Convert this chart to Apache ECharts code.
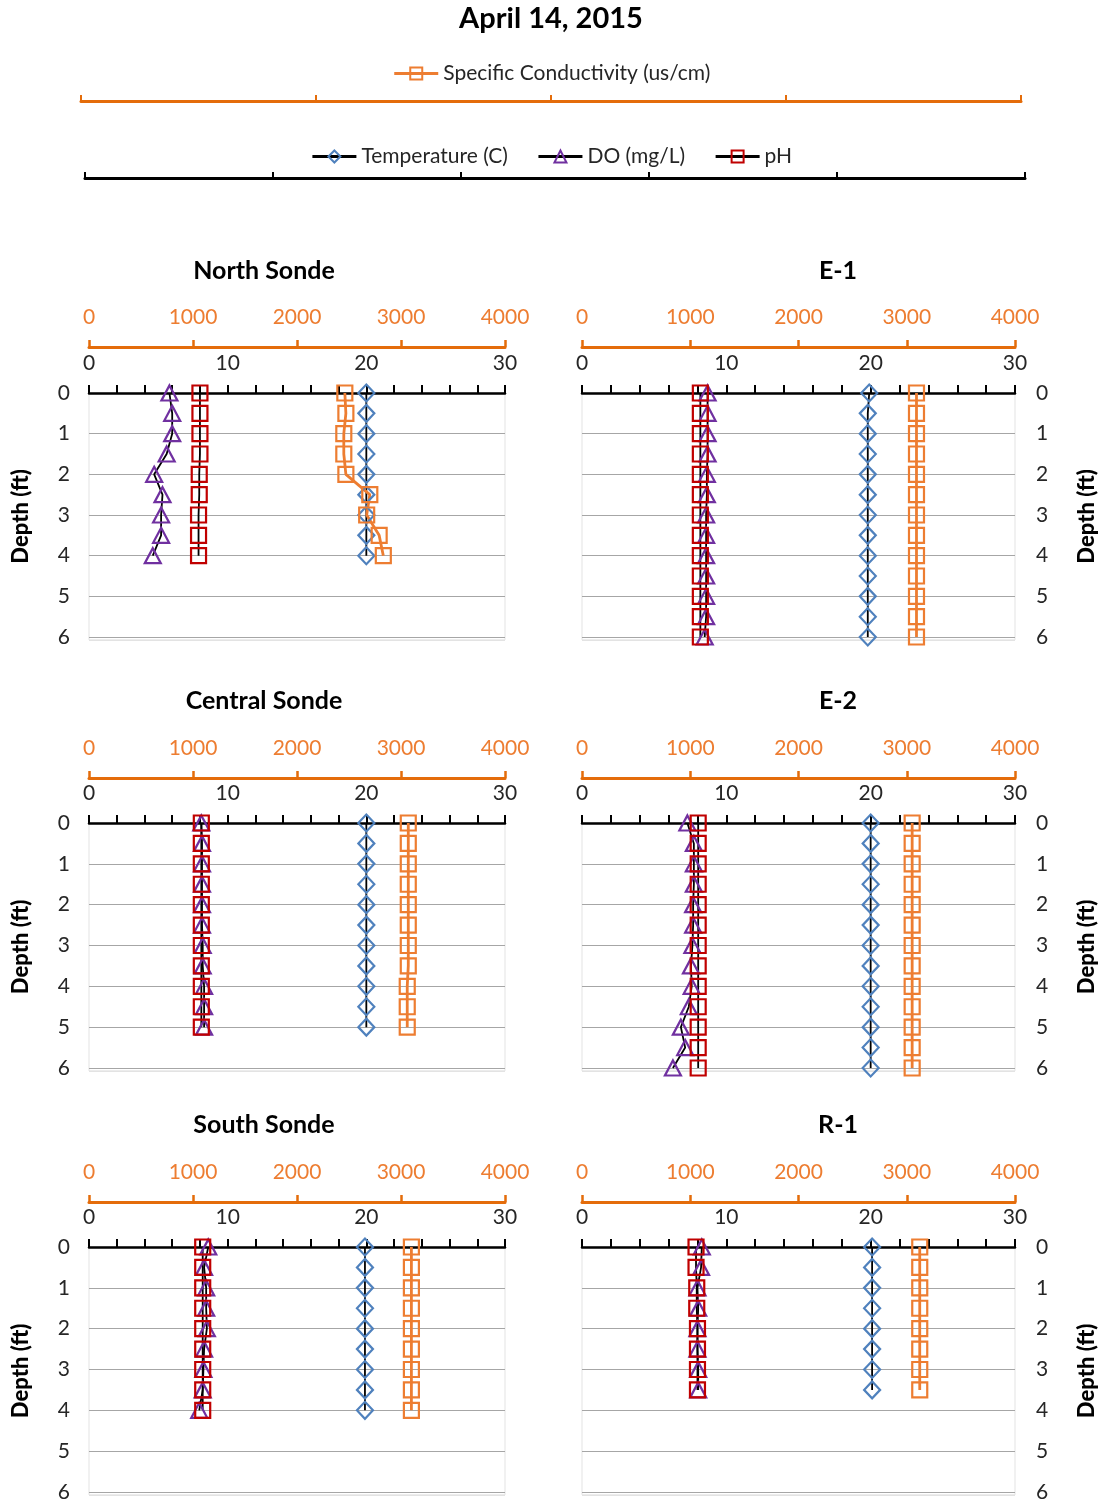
<!DOCTYPE html>
<html>
<head>
<meta charset="utf-8">
<title>April 14, 2015 — Sonde depth profiles</title>
<script src="https://cdn.jsdelivr.net/npm/echarts@6/dist/echarts.min.js"></script>
<style>
  html, body { margin: 0; padding: 0; background: #ffffff; }
  #chart { width: 1103px; height: 1502px; }
</style>
</head>
<body>
<div id="chart"></div>
<script>
// ---- Profile data (depth in ft; temperature C, DO mg/L, pH, conductivity us/cm) ----
const northDepth = [0, 0.5, 1, 1.5, 2, 2.5, 3, 3.5, 4];
const northTemp  = [20.0, 20.0, 20.0, 20.0, 20.0, 20.0, 20.0, 20.0, 20.0];
const northDO    = [5.8, 6.0, 6.0, 5.6, 4.7, 5.3, 5.2, 5.2, 4.6];
const northPH    = [8.0, 8.0, 8.0, 8.0, 7.95, 7.95, 7.9, 7.9, 7.9];
const northCond  = [2460, 2470, 2450, 2450, 2470, 2700, 2670, 2790, 2830];

const e1Depth = [0, 0.5, 1, 1.5, 2, 2.5, 3, 3.5, 4, 4.5, 5, 5.5, 6];
const e1Temp  = [19.9, 19.8, 19.8, 19.8, 19.8, 19.8, 19.8, 19.8, 19.8, 19.8, 19.8, 19.8, 19.8];
const e1DO    = [8.7, 8.7, 8.7, 8.7, 8.65, 8.65, 8.6, 8.6, 8.6, 8.6, 8.6, 8.6, 8.5];
const e1PH    = [8.2, 8.2, 8.2, 8.2, 8.2, 8.2, 8.2, 8.2, 8.2, 8.2, 8.2, 8.2, 8.2];
const e1Cond  = [3090, 3090, 3090, 3090, 3090, 3090, 3090, 3090, 3090, 3090, 3090, 3090, 3090];

const centralDepth = [0, 0.5, 1, 1.5, 2, 2.5, 3, 3.5, 4, 4.5, 5];
const centralTemp  = [20.0, 20.0, 20.0, 20.0, 20.0, 20.0, 20.0, 20.0, 20.0, 20.0, 20.0];
const centralDO    = [8.1, 8.15, 8.15, 8.15, 8.15, 8.15, 8.2, 8.2, 8.3, 8.3, 8.3];
const centralPH    = [8.1, 8.1, 8.1, 8.1, 8.1, 8.1, 8.1, 8.1, 8.1, 8.1, 8.1];
const centralCond  = [3070, 3070, 3070, 3070, 3070, 3070, 3070, 3070, 3060, 3060, 3060];

const e2Depth = [0, 0.5, 1, 1.5, 2, 2.5, 3, 3.5, 4, 4.5, 5, 5.5, 6];
const e2Temp  = [20.0, 20.0, 20.0, 20.0, 20.0, 20.0, 20.0, 20.0, 20.0, 20.0, 20.0, 20.0, 20.0];
const e2DO    = [7.3, 7.75, 7.75, 7.75, 7.7, 7.7, 7.65, 7.55, 7.6, 7.4, 6.85, 7.15, 6.3];
const e2PH    = [8.05, 8.05, 8.05, 8.05, 8.05, 8.05, 8.05, 8.05, 8.05, 8.05, 8.05, 8.05, 8.05];
const e2Cond  = [3050, 3050, 3050, 3050, 3050, 3050, 3050, 3050, 3050, 3050, 3050, 3050, 3050];

const southDepth = [0, 0.5, 1, 1.5, 2, 2.5, 3, 3.5, 4];
const southTemp  = [19.9, 19.9, 19.9, 19.9, 19.9, 19.9, 19.9, 19.9, 19.9];
const southDO    = [8.6, 8.3, 8.45, 8.45, 8.5, 8.3, 8.25, 8.2, 7.95];
const southPH    = [8.2, 8.2, 8.2, 8.2, 8.2, 8.2, 8.2, 8.2, 8.2];
const southCond  = [3100, 3100, 3100, 3100, 3100, 3100, 3100, 3100, 3100];

const r1Depth = [0, 0.5, 1, 1.5, 2, 2.5, 3, 3.5];
const r1Temp  = [20.1, 20.1, 20.1, 20.1, 20.1, 20.1, 20.1, 20.1];
const r1DO    = [8.3, 8.25, 8.0, 8.05, 8.0, 8.0, 8.05, 8.05];
const r1PH    = [7.9, 7.9, 7.95, 7.95, 8.0, 8.0, 8.0, 8.0];
const r1Cond  = [3120, 3120, 3120, 3120, 3120, 3120, 3120, 3120];

// Axis tick labels
const depthTicks = [0, 1, 2, 3, 4, 5, 6];
const primaryTicks = [0, 10, 20, 30];
const condTicks = [0, 1000, 2000, 3000, 4000];

// Series names / legend entries
const NAME_COND = 'Specific Conductivity (us/cm)';
const NAME_TEMP = 'Temperature (C)';
const NAME_DO = 'DO (mg/L)';
const NAME_PH = 'pH';

const PANELS = [
  { title: 'North Sonde',   col: 0, row: 0, depth: northDepth,   temp: northTemp,   dox: northDO,   ph: northPH,   cond: northCond },
  { title: 'E-1',           col: 1, row: 0, depth: e1Depth,      temp: e1Temp,      dox: e1DO,      ph: e1PH,      cond: e1Cond },
  { title: 'Central Sonde', col: 0, row: 1, depth: centralDepth, temp: centralTemp, dox: centralDO, ph: centralPH, cond: centralCond },
  { title: 'E-2',           col: 1, row: 1, depth: e2Depth,      temp: e2Temp,      dox: e2DO,      ph: e2PH,      cond: e2Cond },
  { title: 'South Sonde',   col: 0, row: 2, depth: southDepth,   temp: southTemp,   dox: southDO,   ph: southPH,   cond: southCond },
  { title: 'R-1',           col: 1, row: 2, depth: r1Depth,      temp: r1Temp,      dox: r1DO,      ph: r1PH,      cond: r1Cond }
];

// ---- Layout and styling ----
const FONT = 'Lato, "Open Sans", sans-serif';
const TEXT = '#262626';
const ORANGE = '#ED7D31';
const ORANGE_AXIS = '#E46C0A';
const BLUE = '#4F81BD';
const PURPLE = '#7030A0';
const RED = '#C00000';
const DEPTH_MAX = 6.07;   // a hair past 6 ft so the plot frame sits just under the 6 ft gridline
const LABEL_SIZE = 21;

const COLS = [
  { left: 89,  width: 416, titleX: 264, side: 'left',  labelMargin: 19, nameGap: 57 },
  { left: 582, width: 433, titleX: 838, side: 'right', labelMargin: 21, nameGap: 61 }
];
const ROWS = [
  { top: 393,  ppf: 40.67, titleY: 271,  condOffset: 46 },
  { top: 823,  ppf: 40.83, titleY: 701,  condOffset: 45 },
  { top: 1247, ppf: 40.83, titleY: 1125, condOffset: 45 }
];

const pairs = (xs, ys) => xs.map((x, i) => [x, ys[i]]);
const hollow = (c) => ({ color: 'rgba(255,255,255,0)', borderColor: c, borderWidth: 2.2 });

const grid = [], xAxis = [], yAxis = [], series = [], graphic = [];

graphic.push({
  type: 'text', x: 551, y: 19,
  style: { text: 'April 14, 2015', font: 'bold 29px ' + FONT, fill: '#000', align: 'center', verticalAlign: 'middle' }
});

PANELS.forEach((p, gi) => {
  const c = COLS[p.col], r = ROWS[p.row];
  grid.push({
    left: c.left, top: r.top, width: c.width, height: DEPTH_MAX * r.ppf,
    outerBoundsMode: 'none', containLabel: false,
    show: true, borderColor: '#E3E3E3', borderWidth: 1, backgroundColor: 'transparent'
  });

  // primary scale: temperature, DO, pH
  xAxis.push({
    type: 'value', gridIndex: gi, position: 'top', min: 0, max: 30, interval: 2,
    axisLine: { show: true, onZero: false, lineStyle: { color: '#000', width: 2.5 } },
    axisTick: { show: true, length: 8, lineStyle: { color: '#000', width: 2 } },
    axisLabel: {
      margin: 19, fontSize: LABEL_SIZE, fontFamily: FONT, color: TEXT,
      formatter: (v) => primaryTicks.indexOf(v) >= 0 ? String(v) : ''
    },
    splitLine: { show: false }
  });
  // secondary scale: conductivity
  xAxis.push({
    type: 'value', gridIndex: gi, position: 'top', offset: r.condOffset, min: 0, max: 4000, interval: 1000,
    axisLine: { show: true, onZero: false, lineStyle: { color: ORANGE_AXIS, width: 3 } },
    axisTick: { show: true, length: 7, lineStyle: { color: ORANGE_AXIS, width: 2.5 } },
    axisLabel: {
      margin: 19, fontSize: LABEL_SIZE, fontFamily: FONT, color: ORANGE,
      formatter: (v) => condTicks.indexOf(v) >= 0 ? String(v) : ''
    },
    splitLine: { show: false }
  });
  yAxis.push({
    type: 'value', gridIndex: gi, position: c.side, inverse: true, min: 0, max: DEPTH_MAX, interval: 1,
    name: 'Depth (ft)', nameLocation: 'middle', nameRotate: 90, nameGap: c.nameGap,
    nameTextStyle: { fontSize: 22, fontWeight: 900, fontFamily: FONT, color: '#000' },
    axisLine: { show: false }, axisTick: { show: false },
    axisLabel: {
      margin: c.labelMargin, fontSize: LABEL_SIZE, fontFamily: FONT, color: TEXT,
      formatter: (v) => depthTicks.indexOf(v) >= 0 ? String(v) : ''
    },
    splitLine: { show: true, lineStyle: { width: 1, color: ['#A6A6A6', '#A6A6A6', '#A6A6A6', '#A6A6A6', '#A6A6A6', '#A6A6A6', '#A6A6A6', '#E3E3E3'] } }
  });

  const xa = gi * 2;
  const base = { type: 'line', xAxisIndex: xa, yAxisIndex: gi, animation: false, silent: true, z: 3 };
  series.push(Object.assign({}, base, {
    name: NAME_TEMP, data: pairs(p.temp, p.depth), symbol: 'diamond', symbolSize: [16, 17],
    lineStyle: { color: '#000', width: 1.8 }, itemStyle: hollow(BLUE)
  }));
  series.push(Object.assign({}, base, {
    name: NAME_DO, data: pairs(p.dox, p.depth), symbol: 'triangle', symbolSize: [16, 15],
    lineStyle: { color: '#000', width: 1.8 }, itemStyle: hollow(PURPLE)
  }));
  series.push(Object.assign({}, base, {
    name: NAME_PH, data: pairs(p.ph, p.depth), symbol: 'rect', symbolSize: 15,
    lineStyle: { color: '#000', width: 1.8 }, itemStyle: hollow(RED)
  }));
  series.push(Object.assign({}, base, {
    name: NAME_COND, xAxisIndex: xa + 1, data: pairs(p.cond, p.depth), symbol: 'rect', symbolSize: 15,
    lineStyle: { color: ORANGE, width: 2.8 }, itemStyle: hollow(ORANGE)
  }));

  graphic.push({
    type: 'text', x: c.titleX, y: r.titleY,
    style: { text: p.title, font: 'bold 25px ' + FONT, fill: '#000', align: 'center', verticalAlign: 'middle' }
  });
});

// Shared legend scales across the top of the page
const gOrange = grid.length;
grid.push({ left: 81, width: 940, top: 101, height: 1, show: false, outerBoundsMode: 'none' });
xAxis.push({
  type: 'value', gridIndex: gOrange, position: 'top', min: 0, max: 4, interval: 1,
  axisLine: { show: true, onZero: false, lineStyle: { color: ORANGE_AXIS, width: 3 } },
  axisTick: { show: true, length: 6, lineStyle: { color: ORANGE_AXIS, width: 2 } },
  axisLabel: { show: false }, splitLine: { show: false }
});
yAxis.push({ type: 'value', gridIndex: gOrange, show: false });

const gBlack = grid.length;
grid.push({ left: 85, width: 940, top: 178, height: 1, show: false, outerBoundsMode: 'none' });
xAxis.push({
  type: 'value', gridIndex: gBlack, position: 'top', min: 0, max: 5, interval: 1,
  axisLine: { show: true, onZero: false, lineStyle: { color: '#000', width: 3 } },
  axisTick: { show: true, length: 6, lineStyle: { color: '#000', width: 2 } },
  axisLabel: { show: false }, splitLine: { show: false }
});
yAxis.push({ type: 'value', gridIndex: gBlack, show: false });

const legendText = { fontSize: 21, fontFamily: FONT, color: TEXT };
const option = {
  animation: false,
  backgroundColor: '#ffffff',
  grid, xAxis, yAxis, series, graphic,
  legend: [
    { data: [NAME_COND], top: 63, left: 'center', padding: 0, itemWidth: 44, itemHeight: 15,
      selectedMode: false, textStyle: legendText, lineStyle: { width: 3 } },
    { data: [NAME_TEMP, NAME_DO, NAME_PH], top: 146, left: 'center', padding: 0, itemWidth: 44, itemHeight: 15,
      itemGap: 29, selectedMode: false, textStyle: legendText, lineStyle: { width: 3 } }
  ]
};

const chart = echarts.init(document.getElementById('chart'), null, { renderer: 'canvas' });
chart.setOption(option);
</script>
</body>
</html>
